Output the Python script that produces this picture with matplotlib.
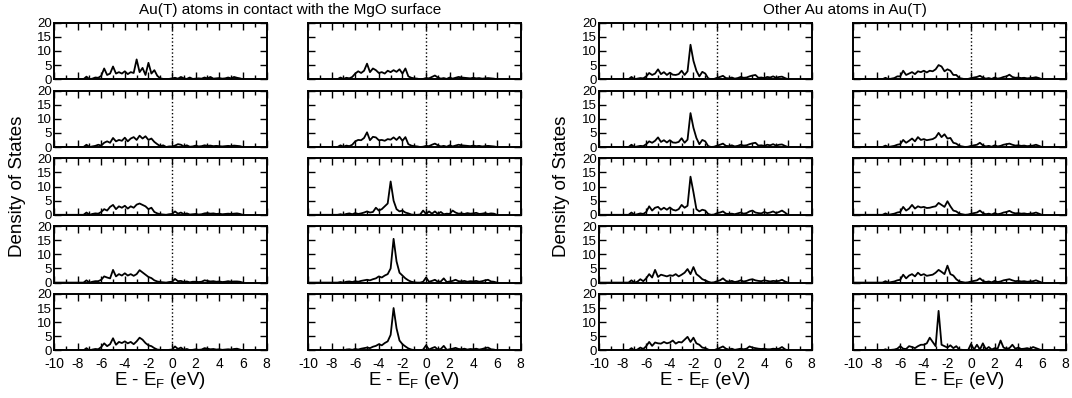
import numpy as np
import matplotlib.pyplot as plt
from matplotlib.ticker import MultipleLocator

plt.rcParams['font.family'] = ['Liberation Sans', 'DejaVu Sans']
plt.rcParams['axes.unicode_minus'] = False

# energy grid (eV), -10 .. 6 in 0.25 steps
energy = np.arange(-10, 6.01, 0.25)
z10 = [0] * 10  # -10 .. -7.75 is empty

# Au(T) atoms in contact with MgO, left column
contact_a1 = z10 + [0, 0.9, 0, 0.2, 0.6, 0.5, 1.2, 3.8, 1.5, 2.0, 4.5, 2.0, 2.5, 2.0, 2.8, 1.8, 2.5, 2.2, 7.0, 2.5,
                    4.0, 1.5, 5.8, 2.0, 3.2, 1.2, 0.3, 0.1, 0, 0.1,
                    0.3, 0.5, 0.2, 0.8, 0.3, 0.1, 0.6, 0.1, 0.2, 0.3, 0.2, 0.6, 0.3, 0.8, 0.2, 0.3, 0.4, 0.2, 0.3, 0.6,
                    0.3, 0.8, 0.5, 0.3, 0]
contact_a2 = z10 + [0, 0.8, 0, 0.2, 0.4, 0.8, 0.5, 1.5, 2.0, 1.5, 3.2, 2.0, 2.5, 2.2, 3.3, 2.0, 3.0, 3.5, 2.5, 4.0,
                    3.0, 3.8, 2.5, 3.0, 1.8, 1.0, 0.3, 0.6, 0, 0.2,
                    0.2, 0.5, 1.0, 0.8, 0.2, 0.6, 0.1, 0.2, 0.5, 0.2, 0.3, 0.6, 0.4, 0.5, 0.3, 0.4, 0.3, 0.2, 0.3, 0.4,
                    0.3, 0.5, 0.4, 0.3, 0]
contact_a3 = z10 + [0, 0.8, 0, 0.3, 0.5, 0.4, 1.0, 2.0, 1.5, 2.8, 3.5, 2.0, 3.0, 2.5, 3.2, 2.2, 3.0, 2.5, 3.6, 4.0,
                    3.5, 3.0, 2.0, 2.5, 1.0, 0.5, 0.2, 0.1, 0, 0.2,
                    0.3, 1.2, 0.4, 0.8, 0.2, 0.5, 0.1, 0.2, 0.3, 0.1, 0.2, 0.5, 0.6, 0.4, 0.5, 0.3, 0.4, 0.2, 0.3, 0.4,
                    0.3, 0.4, 0.5, 0.3, 0]
contact_a4 = z10 + [0, 0.8, 0, 0.3, 0.5, 0.5, 1.0, 2.2, 1.8, 1.5, 4.5, 2.2, 3.0, 2.5, 3.3, 2.5, 3.0, 2.4, 3.0, 4.4,
                    3.6, 2.8, 2.0, 1.6, 0.8, 0.4, 0.2, 0.1, 0, 0.2,
                    0.3, 1.3, 0.5, 0.6, 0.2, 0.4, 0.1, 0.3, 0.3, 0.2, 0.3, 0.8, 0.6, 0.4, 0.5, 0.3, 0.4, 0.2, 0.3, 0.5,
                    0.3, 0.4, 0.4, 0.3, 0]
contact_a5 = z10 + [0, 0.8, 0, 0.3, 0.5, 0.4, 1.2, 2.5, 1.5, 2.2, 4.3, 2.0, 3.0, 2.6, 3.2, 2.5, 3.0, 2.2, 3.2, 4.5,
                    3.8, 2.6, 1.8, 1.5, 0.8, 0.3, 0.2, 0.1, 0, 0.2,
                    0.3, 1.4, 0.5, 1.0, 0.2, 0.5, 0.1, 0.2, 0.4, 0.2, 0.3, 0.8, 0.6, 0.4, 0.5, 0.3, 0.4, 0.2, 0.3, 0.4,
                    0.3, 0.5, 0.6, 0.3, 0]

# Au(T) atoms in contact with MgO, right column
contact_b1 = z10 + [0, 0.6, 0.1, 0.5, 0.3, 0.8, 2.0, 2.8, 2.2, 3.0, 5.5, 2.5, 3.8, 3.2, 2.2, 2.5, 2.0, 3.0, 2.5, 3.2,
                    2.6, 3.5, 2.0, 3.8, 1.0, 0.5, 0.3, 0.2, 0, 0.1,
                    0.4, 0.3, 0.8, 1.3, 0.6, 0.2, 0.4, 0.1, 0.6, 0.2, 0.5, 0.8, 0.6, 0.5, 0.4, 0.3, 0.5, 0.3, 0.4, 0.2,
                    0.3, 0.4, 0.3, 0.2, 0]
contact_b2 = z10 + [0, 0.6, 0.1, 0.5, 0.3, 0.8, 2.0, 2.5, 2.4, 3.2, 5.2, 2.4, 3.6, 3.4, 2.4, 2.5, 2.2, 2.8, 2.6, 3.4,
                    2.5, 3.6, 2.2, 3.5, 1.0, 0.5, 0.3, 0.2, 0, 0.1,
                    0.4, 0.3, 0.8, 1.2, 0.6, 0.2, 0.4, 0.1, 0.6, 0.2, 0.5, 0.8, 0.6, 0.5, 0.4, 0.3, 0.5, 0.3, 0.4, 0.2,
                    0.3, 0.4, 0.3, 0.2, 0]
contact_b3 = z10 + [0, 0.2, 0, 0.3, 0.5, 0.2, 0.6, 0.3, 0.5, 0.8, 1.2, 0.8, 1.0, 2.5, 1.5, 2.0, 3.0, 4.0, 11.8, 5.0,
                    2.0, 1.2, 1.5, 0.8, 0.5, 0.1, 0, 0, 0.1, 1.5,
                    0.3, 1.2, 0.4, 1.2, 0.3, 1.0, 0.2, 0.4, 0.3, 1.5, 0.8, 0.4, 0.5, 0.3, 0.6, 0.4, 0.5, 0.7, 0.3, 0.4,
                    0.6, 0.3, 0.5, 0.4, 0]
contact_b4 = z10 + [0, 0.2, 0, 0.3, 0.4, 0.2, 0.5, 0.3, 0.6, 0.8, 1.0, 0.8, 1.2, 1.5, 2.2, 1.8, 2.5, 3.0, 5.0, 15.5,
                    7.5, 3.5, 2.5, 1.5, 0.8, 0.3, 0.1, 0, 0, 0.3,
                    1.8, 0.3, 0.6, 1.0, 0.3, 0.4, 1.5, 0.2, 0.4, 0.6, 1.0, 0.5, 0.4, 0.6, 0.3, 0.5, 0.4, 0.6, 0.3, 0.5,
                    0.8, 1.0, 0.4, 0.3, 0]
contact_b5 = z10 + [0, 0.2, 0, 0.3, 0.4, 0.2, 0.5, 0.3, 0.6, 0.8, 1.0, 0.8, 1.3, 1.6, 2.2, 1.8, 2.6, 3.2, 5.5, 15.0,
                    7.8, 3.5, 2.2, 1.4, 0.7, 0.3, 0.1, 0, 0, 0.3,
                    1.8, 0.3, 0.8, 1.2, 0.3, 0.5, 1.6, 0.2, 0.4, 0.6, 0.9, 0.5, 0.4, 0.6, 0.3, 0.5, 0.4, 0.6, 0.3, 0.5,
                    0.8, 1.0, 0.4, 0.3, 0]

# other Au atoms in Au(T), left column
other_a1 = z10 + [0, 0.8, 0, 0.2, 0.4, 0.3, 1.0, 2.2, 1.5, 2.0, 3.5, 1.8, 2.5, 1.5, 2.3, 1.6, 1.5, 1.8, 3.0, 1.5,
                  2.8, 12.2, 6.5, 3.0, 1.0, 2.6, 2.0, 0.3, 0, 0.1,
                  0.5, 0.8, 1.2, 0.4, 0.3, 0.6, 0.2, 0.4, 0.8, 0.5, 0.6, 1.0, 1.3, 1.5, 0.5, 0.6, 0.4, 0.8, 0.6, 1.0,
                  0.5, 0.8, 0.9, 0.4, 0]
other_a2 = z10 + [0, 0.8, 0, 0.2, 0.4, 0.3, 1.0, 2.0, 1.5, 2.2, 3.4, 1.8, 2.4, 1.6, 2.4, 1.6, 1.5, 1.8, 3.1, 1.5,
                  2.6, 12.0, 6.8, 3.2, 1.0, 2.5, 2.0, 0.3, 0, 0.1,
                  0.5, 0.8, 1.2, 0.4, 0.3, 0.6, 0.2, 0.4, 0.8, 0.5, 0.6, 1.0, 1.3, 1.5, 0.5, 0.6, 0.4, 0.8, 0.6, 1.0,
                  0.5, 0.8, 0.9, 0.4, 0]
other_a3 = z10 + [0, 0.8, 0, 0.2, 0.5, 0.3, 1.0, 3.0, 1.5, 2.5, 2.8, 1.8, 2.5, 1.8, 2.6, 1.8, 1.5, 2.0, 3.5, 2.5,
                  3.2, 13.5, 8.0, 2.0, 1.2, 1.8, 1.5, 0.3, 0, 0.1,
                  0.6, 0.8, 1.2, 0.4, 0.3, 0.4, 0.2, 0.5, 0.8, 0.4, 0.6, 1.2, 1.5, 0.8, 0.6, 0.5, 1.0, 0.6, 0.8, 1.2,
                  0.6, 1.0, 1.5, 0.8, 0]
other_a4 = z10 + [0, 0.8, 0, 0.3, 1.2, 0.5, 1.5, 3.0, 1.8, 4.5, 2.0, 2.8, 2.5, 2.2, 2.6, 2.4, 3.0, 2.2, 2.8, 3.5,
                  4.8, 3.0, 5.5, 3.0, 2.2, 1.2, 0.8, 0.3, 0, 0.1,
                  0.5, 0.8, 1.5, 0.6, 0.3, 0.6, 0.2, 0.4, 0.8, 0.4, 0.6, 1.0, 1.2, 0.8, 0.6, 0.5, 0.8, 0.6, 0.4, 0.6,
                  0.5, 0.6, 1.0, 0.4, 0]
other_a5 = z10 + [0, 0.8, 0, 0.3, 1.0, 0.5, 1.5, 3.0, 1.6, 2.8, 2.5, 2.4, 3.0, 2.5, 2.8, 3.5, 2.4, 3.0, 2.8, 3.8,
                  4.8, 3.0, 4.5, 2.5, 2.0, 1.0, 0.8, 0.3, 0, 0.1,
                  0.5, 0.9, 1.4, 0.6, 0.3, 0.6, 0.2, 0.4, 0.6, 0.4, 0.6, 1.4, 1.0, 0.8, 0.6, 0.5, 0.6, 0.4, 0.4, 0.6,
                  0.5, 0.6, 1.2, 0.4, 0]

# other Au atoms in Au(T), right column
other_b1 = z10 + [0, 0.5, 0, 0.2, 0.4, 1.0, 1.0, 3.0, 1.5, 2.0, 2.5, 1.8, 2.8, 2.5, 3.0, 2.4, 3.0, 2.8, 3.5, 5.0,
                  4.5, 2.8, 3.5, 3.0, 1.5, 1.5, 0.4, 0.2, 0, 0.1,
                  0.4, 0.6, 0.8, 1.2, 0.6, 0.2, 0.4, 0.1, 0.6, 0.2, 0.4, 0.8, 1.0, 1.6, 0.8, 0.5, 0.6, 0.4, 0.5, 0.3,
                  0.4, 0.5, 0.7, 0.4, 0]
other_b2 = z10 + [0, 0.5, 0, 0.2, 0.4, 0.8, 1.0, 2.5, 1.5, 2.2, 3.0, 2.0, 3.5, 2.5, 2.8, 2.4, 2.6, 2.8, 3.4, 5.0,
                  3.5, 4.5, 3.0, 3.2, 1.5, 1.2, 0.4, 0.2, 0, 0.1,
                  0.4, 0.6, 0.8, 1.5, 0.6, 0.2, 0.4, 0.1, 0.6, 0.2, 0.4, 0.8, 1.0, 1.2, 0.8, 0.5, 0.6, 0.4, 0.5, 0.3,
                  0.4, 0.5, 0.8, 0.4, 0]
other_b3 = z10 + [0, 0.5, 0, 0.2, 0.4, 0.8, 1.0, 2.8, 1.5, 2.2, 3.5, 2.2, 3.0, 2.6, 2.8, 2.4, 2.5, 2.8, 3.0, 4.2,
                  3.5, 2.8, 4.8, 3.0, 1.5, 1.2, 0.4, 0.2, 0, 0.1,
                  0.4, 0.6, 0.8, 1.5, 0.6, 0.2, 0.4, 0.1, 0.6, 0.2, 0.4, 0.8, 1.0, 1.4, 0.8, 0.5, 0.6, 0.4, 0.5, 0.3,
                  0.4, 0.5, 0.8, 0.4, 0]
other_b4 = z10 + [0, 0.5, 0, 0.2, 0.4, 0.8, 1.0, 2.8, 1.5, 2.5, 3.0, 2.2, 3.5, 2.6, 3.0, 2.4, 2.6, 2.8, 3.5, 4.5,
                  3.8, 3.0, 6.0, 3.0, 2.5, 1.2, 0.4, 0.2, 0, 0.1,
                  0.4, 0.6, 0.8, 1.5, 0.6, 0.2, 0.4, 0.1, 0.6, 0.2, 0.4, 0.8, 1.0, 1.2, 0.8, 0.5, 0.6, 0.4, 0.5, 0.3,
                  0.4, 0.5, 0.8, 0.4, 0]
other_b5 = z10 + [0, 0.4, 0, 0.2, 0.3, 0.6, 1.5, 0.6, 0.5, 1.5, 1.2, 0.8, 1.5, 2.0, 2.0, 2.5, 4.5, 3.0, 1.5, 14.0,
                  2.0, 1.5, 1.0, 1.8, 0.8, 1.5, 0.3, 0.2, 0, 0.1,
                  2.3, 0.3, 2.0, 0.3, 2.5, 0.4, 1.2, 0.3, 0.8, 0.6, 3.5, 1.0, 0.6, 0.8, 2.0, 0.6, 1.0, 0.5, 0.6, 0.8,
                  0.5, 1.2, 0.8, 0.4, 0]

columns = [
    [contact_a1, contact_a2, contact_a3, contact_a4, contact_a5],
    [contact_b1, contact_b2, contact_b3, contact_b4, contact_b5],
    [other_a1, other_a2, other_a3, other_a4, other_a5],
    [other_b1, other_b2, other_b3, other_b4, other_b5],
]
titles = ["Au(T) atoms in contact with the MgO surface", "Other Au atoms in Au(T)"]
x_ticks = [-10, -8, -6, -4, -2, 0, 2, 4, 6, 8]
y_ticks = [0, 5, 10, 15, 20]

W, H = 1072, 398
fig = plt.figure(figsize=(W / 100, H / 100), dpi=100)

col_left = [54, 308, 599, 853]
ax_w, ax_h = 212.5, 56.5
row_top = [22.7 + 67.8 * k for k in range(5)]

for c, panels in enumerate(columns):
    for r, dos in enumerate(panels):
        ax = fig.add_axes([col_left[c] / W, 1 - (row_top[r] + ax_h) / H, ax_w / W, ax_h / H])
        ax.plot(energy, dos, color='black', lw=1.3)
        ax.axvline(0, color='black', ls=':', lw=1)
        ax.set_xlim(-10, 8)
        ax.set_ylim(0, 20)
        ax.set_xticks(x_ticks)
        ax.set_yticks(y_ticks)
        ax.xaxis.set_minor_locator(MultipleLocator(1))
        ax.tick_params(which='both', direction='in', top=True, right=True)
        ax.tick_params(axis='x', labelsize=10, pad=5)
        ax.tick_params(axis='y', labelsize=9.5, pad=1.5)
        ax.tick_params(which='major', length=5, width=1)
        ax.tick_params(which='minor', length=3, width=1)
        for sp in ax.spines.values():
            sp.set_linewidth(1.4)
        if c % 2 == 1:
            ax.set_yticklabels([])
        if r < 4:
            ax.set_xticklabels([])
        else:
            ax.set_xlabel("E - E$_\\mathregular{F}$ (eV)", fontsize=13.5, labelpad=-1)

fig.text(290 / W, 1 - 10 / H, titles[0], ha='center', va='center', fontsize=11)
fig.text(845 / W, 1 - 10 / H, titles[1], ha='center', va='center', fontsize=11)
fig.text(18 / W, 1 - 186 / H, "Density of States", rotation=90, ha='center', va='center', fontsize=13.5)
fig.text(562 / W, 1 - 186 / H, "Density of States", rotation=90, ha='center', va='center', fontsize=13.5)

fig.savefig("out.png", dpi=100)
